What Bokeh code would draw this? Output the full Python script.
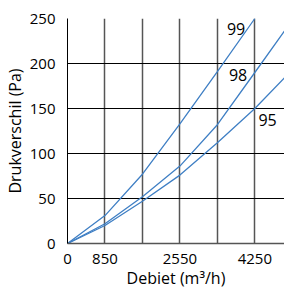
from bokeh.plotting import figure
from bokeh.models import FixedTicker, Range1d, ColumnDataSource
from bokeh.embed import file_html
from bokeh.resources import INLINE
from bokeh.core.properties import value

# Data
flow = [0, 850, 1700, 2550, 3400, 4250, 4920]
dp_99 = [0, 31, 77, 133, 191, 250]
dp_98 = [0, 22, 52, 86, 132, 190, 236]
dp_95 = [0, 20, 47, 76, 112, 150, 184]
series_names = ["99", "98", "95"]
x_ticks = [0, 850, 1700, 2550, 3400, 4250]
x_tick_labels = {1700: "", 3400: ""}
y_ticks = [0, 50, 100, 150, 200, 250]
label_x = [3824, 3869, 4538]
label_y = [238, 187, 137]

FONT = "Open Sans"
BLUE = "#3f7fc4"

p = figure(width=284, height=291, output_backend="svg", toolbar_location=None,
           x_range=Range1d(0, 4923), y_range=Range1d(0, 250),
           min_border_left=67, min_border_right=0, min_border_top=18, min_border_bottom=0)
p.outline_line_color = None
p.background_fill_color = "white"
p.border_fill_color = "white"

p.xaxis.ticker = FixedTicker(ticks=x_ticks)
p.xaxis.major_label_overrides = x_tick_labels
p.yaxis.ticker = FixedTicker(ticks=y_ticks)

for ax in (p.xaxis, p.yaxis):
    ax.major_tick_line_color = None
    ax.minor_tick_line_color = None
    ax.major_label_text_font = FONT
    ax.major_label_text_font_size = "15px"
    ax.major_label_text_color = "black"
    ax.axis_label_text_font = FONT
    ax.axis_label_text_font_size = "16px"
    ax.axis_label_text_font_style = "normal"
    ax.axis_label_text_color = "black"

p.xaxis.axis_label = "Debiet (m³/h)"
p.yaxis.axis_label = "Drukverschil (Pa)"
p.xaxis.major_label_standoff = 4
p.xaxis.axis_label_standoff = 0
p.yaxis.major_label_standoff = 6
p.yaxis.axis_label_standoff = 1
p.yaxis.axis_line_color = "black"
p.xaxis.axis_line_color = "#555555"
p.xaxis.axis_line_width = 1.5

p.xgrid.grid_line_color = "#555555"
p.xgrid.grid_line_width = 1.5
p.ygrid.grid_line_color = "black"
p.ygrid.grid_line_width = 1

p.line(flow[:len(dp_99)], dp_99, line_color=BLUE, line_width=1.3)
p.line(flow, dp_98, line_color=BLUE, line_width=1.3)
p.line(flow, dp_95, line_color=BLUE, line_width=1.3)

src = ColumnDataSource(dict(x=label_x, y=label_y, t=series_names))
p.text(x="x", y="y", text="t", source=src, text_font=value(FONT),
       text_font_size="16px", text_align="center", text_baseline="middle",
       text_color="black")

open("out.html", "w").write(file_html(p, INLINE))
